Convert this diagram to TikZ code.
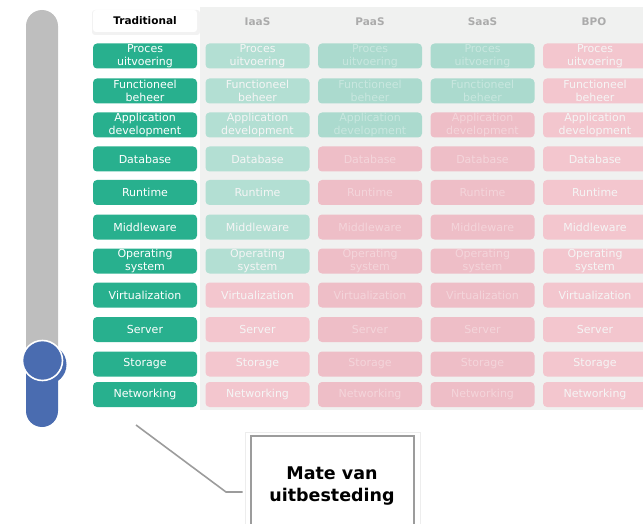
\documentclass[tikz,border=0pt]{standalone}
\usepackage{fontspec}
\setmainfont{DejaVu Sans}

\definecolor{tradgreen}{HTML}{28B08E}
\definecolor{fadegreen}{HTML}{B3DFD3}
\definecolor{fadepink}{HTML}{F3C6CE}
\definecolor{dimgreen}{HTML}{ABDACE}
\definecolor{dimpink}{HTML}{EEBEC7}
\definecolor{headgrey}{HTML}{ABABAB}
\definecolor{panelgrey}{HTML}{F0F1F0}
\definecolor{slidergrey}{HTML}{BEBEBE}
\definecolor{sliderblue}{HTML}{4A6CB0}
\definecolor{calloutgrey}{HTML}{9C9C9C}

\tikzset{
  layer/.style={rounded corners=4pt, minimum width=104pt, minimum height=25pt,
    inner sep=0pt, align=center, text=white,
    font=\fontsize{11}{13}\selectfont},
  trad/.style={layer, fill=tradgreen},
  faded/.style={layer, fill=#1, text=white!96!black},
  blurred/.style={layer, fill=#1, text opacity=0.35},
  hdr/.style={font=\bfseries\fontsize{10.5}{12}\selectfont}
}

% The layers of the stack, with the centre of each row
\def\layers{56/{Proces\\uitvoering}, 91/{Functioneel\\beheer},
  125/{Application\\development}, 159/Database, 192.5/Runtime,
  227/Middleware, 261/{Operating\\system}, 295/Virtualization,
  329.5/Server, 364/Storage, 394.5/Networking}

\begin{document}
\begin{tikzpicture}[x=1pt,y=-1pt]
  \useasboundingbox (0,0) rectangle (643,524);

  % Light panel behind the outsourced models
  \fill[panelgrey] (200,7) rectangle (643,410);

  % Column headers
  \fill[black!5, rounded corners=3pt] (92,10) rectangle (200,35);
  \node[hdr, fill=white, minimum width=104pt, minimum height=22pt,
    rounded corners=3pt] (hTrad) at (145,21) {Traditional};
  \node[hdr, text=headgrey] (hIaaS) at (257.5,22) {IaaS};
  \node[hdr, text=headgrey] (hPaaS) at (370,22) {PaaS};
  \node[hdr, text=headgrey] (hSaaS) at (482.5,22) {SaaS};
  \node[hdr, text=headgrey] (hBPO) at (594,22) {BPO};

  % The five columns of layers
  \foreach \y/\txt [count=\r] in \layers {
    \node[trad] (trad\r) at (145,\y) {\txt};
    \ifnum\r>7
      \node[faded=fadepink] (iaas\r) at (257.5,\y) {\txt};
    \else
      \node[faded=fadegreen] (iaas\r) at (257.5,\y) {\txt};
    \fi
    \ifnum\r>3
      \node[blurred=dimpink] (paas\r) at (370,\y) {\txt};
    \else
      \node[blurred=dimgreen] (paas\r) at (370,\y) {\txt};
    \fi
    \ifnum\r>2
      \node[blurred=dimpink] (saas\r) at (482.5,\y) {\txt};
    \else
      \node[blurred=dimgreen] (saas\r) at (482.5,\y) {\txt};
    \fi
    \node[faded=fadepink] (bpo\r) at (595,\y) {\txt};
  }

  % Slider on the left
  \fill[slidergrey, rounded corners=16pt] (26,10) rectangle (58,378);
  \fill[sliderblue, rounded corners=16pt] (26,345) rectangle (58,427);
  \fill[sliderblue] (46.5,364.5) circle (20pt);
  \filldraw[sliderblue, draw=white, line width=1.6pt] (42.5,360.5) circle (20pt);

  % Callout
  \draw[black!7] (245,432) rectangle (420,530);
  \node[draw=calloutgrey, line width=2pt, minimum width=163pt,
    minimum height=100pt, align=center,
    font=\bfseries\fontsize{17.5}{22}\selectfont] (callout) at (332,486)
    {Mate van\\uitbesteding};
  \coordinate (tail) at (136,425);
  \coordinate (bend) at (226,492);
  \draw[calloutgrey, line width=1.6pt, shorten >=7pt]
    (tail) -- (bend) -- ([yshift=-6pt]callout.west);
\end{tikzpicture}
\end{document}
